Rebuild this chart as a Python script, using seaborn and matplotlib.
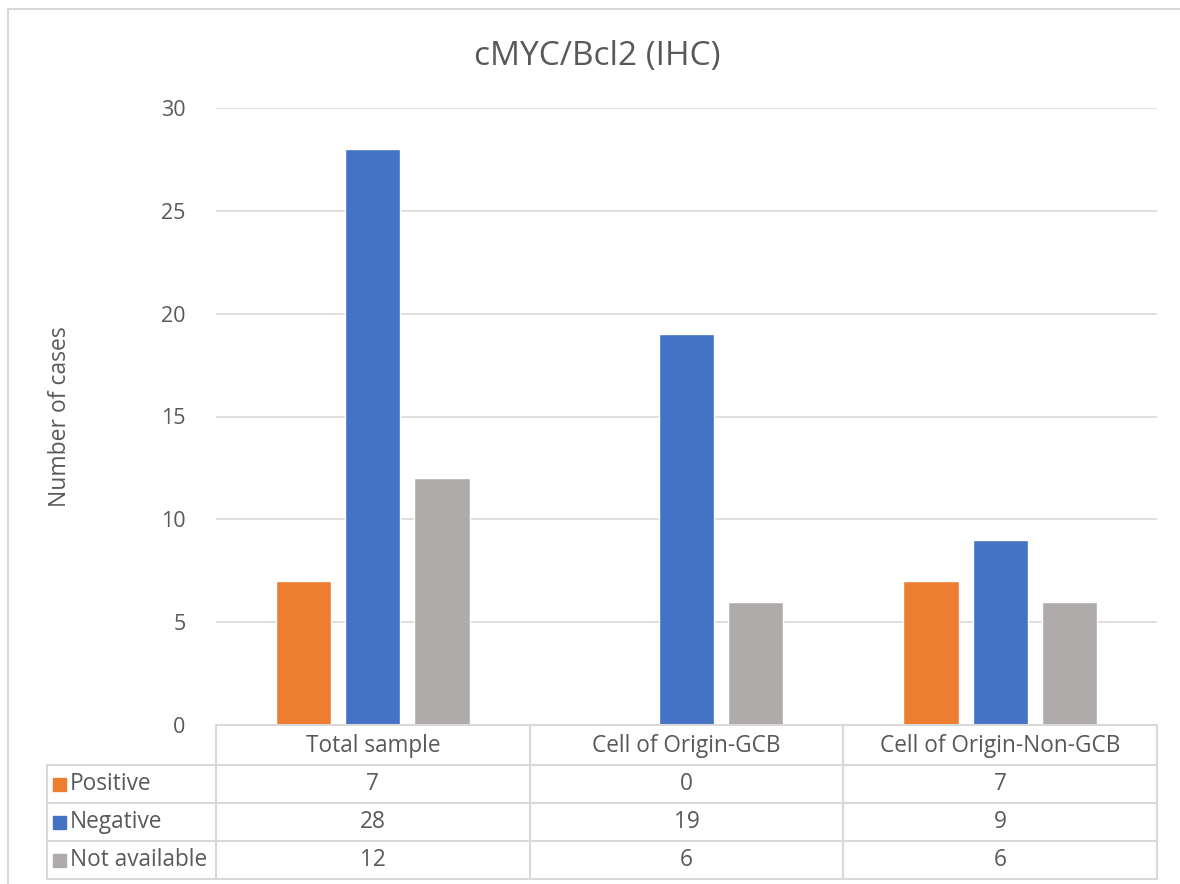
import matplotlib
matplotlib.use("Agg")
import matplotlib.pyplot as plt
import seaborn as sns
import pandas as pd
from matplotlib.lines import Line2D
from matplotlib.patches import Rectangle

categories = ["Total sample", "Cell of Origin-GCB", "Cell of Origin-Non-GCB"]
series = ["Positive", "Negative", "Not available"]
positive = [7, 0, 7]
negative = [28, 19, 9]
not_available = [12, 6, 6]
colors = ["#ED7D31", "#4472C4", "#AFABAB"]
yticks = [0, 5, 10, 15, 20, 25, 30]
title = "cMYC/Bcl2 (IHC)"
ylabel = "Number of cases"

values = {"Positive": positive, "Negative": negative, "Not available": not_available}
rows = []
for s in series:
    for c, v in zip(categories, values[s]):
        rows.append({"category": c, "series": s, "value": v})
df = pd.DataFrame(rows)

sns.set_style("white")
plt.rcParams["font.family"] = ["Open Sans", "DejaVu Sans"]
txt = "#595959"
grid = "#D9D9D9"

fig = plt.figure(figsize=(11.8, 8.84), dpi=100)
ax = fig.add_axes([216/1180, 1-725/884, 941/1180, 617/884])
sns.barplot(data=df, x="category", y="value", hue="series", hue_order=series,
            order=categories, palette=colors, width=0.661, gap=0.2,
            saturation=1, ax=ax, legend=False)
ax.set_ylim(0, 30)
ax.set_xlim(-0.5, 2.5)
ax.set_yticks(yticks)
ax.set_yticklabels([str(t) for t in yticks], color=txt, fontsize=15.5)
ax.tick_params(axis="y", length=0, pad=22)
ax.set_xticks([])
ax.set_xlabel("")
ax.set_ylabel(ylabel, color=txt, fontsize=16.5)
ax.yaxis.set_label_coords(-(216-72)/941, 0.5)
ax.grid(axis="y", color=grid, lw=1.2)
ax.set_axisbelow(True)
for sp in ax.spines.values():
    sp.set_visible(False)
fig.text(597/1180, 1 - 57/884, title, ha="center", va="center",
         fontsize=24, color=txt)

# data table
tr = ax.get_xaxis_transform()
hpx = 617.0
def yf(py):
    return -(py - 725) / hpx
row_edges = [725, 765, 803, 841, 879]
xl = -0.5 - 169/313
ax.add_line(Line2D([-0.5, 2.5], [yf(725), yf(725)], transform=tr, color=grid, lw=1.5, clip_on=False))
for py in row_edges[1:]:
    ax.add_line(Line2D([xl, 2.5], [yf(py), yf(py)], transform=tr, color=grid, lw=1.5, clip_on=False))
for xv in [-0.5, 0.5, 1.5, 2.5]:
    ax.add_line(Line2D([xv, xv], [yf(725), yf(879)], transform=tr, color=grid, lw=1.5, clip_on=False))
ax.add_line(Line2D([xl, xl], [yf(765), yf(879)], transform=tr, color=grid, lw=1.5, clip_on=False))

fs = 16.3
for i, c in enumerate(categories):
    ax.text(i, yf(746), c, transform=tr, ha="center", va="center", fontsize=fs, color=txt)
for r, (s, col) in enumerate(zip(series, colors)):
    yc = yf((row_edges[r+1] + row_edges[r+2]) / 2)
    for i, v in enumerate(values[s]):
        ax.text(i, yc, str(v), transform=tr, ha="center", va="center", fontsize=fs, color=txt)
    sq = 13 / hpx
    ax.add_patch(Rectangle((xl + 6/313, yc - sq/2), 13/313, sq, transform=tr,
                           color=col, clip_on=False))
    ax.text(xl + 23/313, yc, s, transform=tr, ha="left", va="center", fontsize=fs, color=txt)

fig.add_artist(Line2D([7.5/1180, 7.5/1180], [0, 1 - 9/884], transform=fig.transFigure, color=grid, lw=1.5))
fig.add_artist(Line2D([7.5/1180, 1], [1 - 9/884, 1 - 9/884], transform=fig.transFigure, color=grid, lw=1.5))

fig.savefig("out.png", dpi=100)
